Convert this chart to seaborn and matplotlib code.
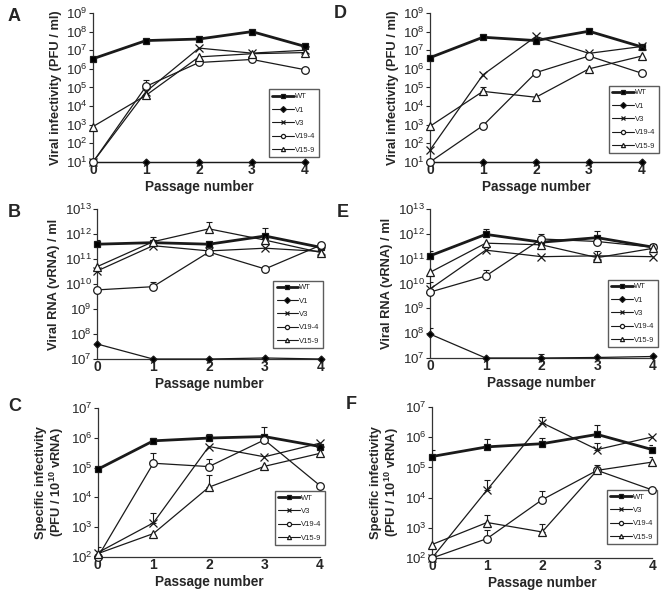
import numpy as np
import pandas as pd
import matplotlib
matplotlib.use("Agg")
import matplotlib.pyplot as plt
import matplotlib.ticker as mticker
import seaborn as sns

# --------------------------
# Data
# --------------------------
passage = [0, 1, 2, 3, 4]
series_names = ["WT", "V1", "V3", "V19-4", "V15-9"]

# A: viral infectivity (PFU/ml), left column
a_wt = [3.5e6, 3.3e7, 4.0e7, 1.0e8, 1.6e7]
a_v1 = [10, 10, 10, 10, 10]
a_v3 = [10, 6.0e4, 1.3e7, 7.0e6, 1.0e7]
a_v19 = [10, 1.15e5, 2.2e6, 3.2e6, 9.0e5]
a_v15 = [8.0e2, 3.8e4, 4.4e6, 6.5e6, 7.5e6]
a_err = {"WT": [None, None, 5.0e7, None, None],
         "V19-4": [None, 2.4e5, None, None, None]}

# D: viral infectivity (PFU/ml), right column
d_wt = [4.0e6, 5.0e7, 3.3e7, 1.05e8, 1.5e7]
d_v1 = [10, 10, 10, 10, 10]
d_v3 = [44, 4.8e5, 5.5e7, 6.8e6, 1.6e7]
d_v19 = [10, 9.0e2, 6.3e5, 4.9e6, 5.8e5]
d_v15 = [8.3e2, 6.2e4, 3.0e4, 1.0e6, 4.9e6]
d_err = {"V15-9": [None, 1.0e5, None, None, None],
         "V19-4": [None, None, 9.0e5, None, None]}

# B: viral RNA (vRNA)/ml, left column
b_wt = [3.9e11, 4.5e11, 3.9e11, 8.3e11, 2.9e11]
b_v1 = [4.0e7, 1.0e7, 1.0e7, 1.1e7, 1.0e7]
b_v3 = [3.3e10, 3.4e11, 2.1e11, 2.7e11, 2.0e11]
b_v19 = [5.8e9, 7.8e9, 1.9e11, 4.0e10, 3.6e11]
b_v15 = [4.9e10, 4.9e11, 1.6e12, 5.7e11, 1.8e11]
b_err = {"WT": [6.0e11, None, None, 1.7e12, None],
         "V19-4": [None, 1.2e10, None, None, None],
         "V15-9": [None, 7.5e11, 3.1e12, None, None]}

# E: viral RNA (vRNA)/ml, right column
e_wt = [1.3e11, 9.5e11, 4.6e11, 7.0e11, 2.9e11]
e_v1 = [9.2e7, 1.0e7, 1.0e7, 1.05e7, 1.15e7]
e_v3 = [6.0e9, 2.2e11, 1.2e11, 1.3e11, 1.2e11]
e_v19 = [4.5e9, 2.0e10, 6.2e11, 4.9e11, 2.9e11]
e_v15 = [2.8e10, 4.2e11, 3.6e11, 1.1e11, 2.6e11]
e_err = {"WT": [2.0e11, 1.6e12, None, 1.3e12, None],
         "V1": [1.6e8, None, 1.4e7, None, None],
         "V19-4": [None, 3.5e10, 9.5e11, None, None],
         "V3": [1.1e10, None, None, 2.0e11, None]}

# C: specific infectivity (PFU/10^10 vRNA), left column
c_wt = [8.8e4, 7.9e5, 9.8e5, 1.1e6, 5.1e5]
c_v3 = [140, 1.4e3, 5.1e5, 2.3e5, 6.6e5]
c_v19 = [100, 1.4e5, 1.08e5, 8.5e5, 2.5e4]
c_v15 = [130, 610, 2.2e4, 1.1e5, 3.0e5]
c_err = {"WT": [None, 9.5e5, 1.35e6, 2.3e6, None],
         "V3": [None, 2.9e3, None, None, None],
         "V19-4": [None, 3.0e5, 2.0e5, None, None],
         "V15-9": [2.2e2, None, 5.6e4, None, None]}

# F: specific infectivity (PFU/10^10 vRNA), right column
f_wt = [2.3e5, 4.8e5, 6.1e5, 1.24e6, 3.9e5]
f_v3 = [100, 1.8e4, 3.0e6, 3.9e5, 1.02e6]
f_v19 = [100, 440, 8.5e3, 8.0e4, 1.8e4]
f_v15 = [280, 1.5e3, 730, 8.0e4, 1.5e5]
f_err = {"WT": [3.9e5, 9.0e5, 9.5e5, 2.6e6, 5.5e5],
         "V3": [None, 3.9e4, 4.7e6, 6.5e5, None],
         "V19-4": [None, 8.3e2, 1.6e4, None, None],
         "V15-9": [None, 2.6e3, 1.3e3, 1.2e5, 2.3e5]}

# --------------------------
# Styling
# --------------------------
sns.set_style("ticks")
plt.rcParams["font.family"] = ["Liberation Sans", "DejaVu Sans"]
plt.rcParams["mathtext.fontset"] = "custom"
plt.rcParams["mathtext.rm"] = "Liberation Sans:bold"
plt.rcParams["mathtext.bf"] = "Liberation Sans:bold"
plt.rcParams["mathtext.it"] = "Liberation Sans:bold"
plt.rcParams["mathtext.default"] = "bf"

styles = {
    "WT": dict(marker="s", mfc="black", ms=5, lw=2.0),
    "V1": dict(marker="D", mfc="black", ms=3.5, lw=0.9),
    "V3": dict(marker="x", mfc="black", ms=6, lw=0.9),
    "V19-4": dict(marker="o", mfc="white", ms=5.5, lw=0.9),
    "V15-9": dict(marker="^", mfc="white", ms=5.5, lw=0.9),
}


def draw_panel(ax, data, errs, ylim, ylabel, leg_xy):
    for name, vals in data.items():
        st = styles[name]
        df = pd.DataFrame({"passage": passage, "value": vals})
        sns.lineplot(data=df, x="passage", y="value", ax=ax, color="#1a1a1a",
                     marker=st["marker"], markerfacecolor=st["mfc"],
                     markeredgecolor="#1a1a1a", markersize=st["ms"],
                     markeredgewidth=0.9, linewidth=st["lw"], label=name,
                     clip_on=False, zorder=6)
        if name in errs:
            up = errs[name]
            xs = [p for p, u in zip(passage, up) if u is not None]
            ys = [v for v, u in zip(vals, up) if u is not None]
            hi = [u - v for v, u in zip(vals, up) if u is not None]
            ax.errorbar(xs, ys, yerr=[np.zeros(len(hi)), hi], fmt="none",
                        ecolor="#1a1a1a", elinewidth=0.8, capsize=2.5,
                        capthick=0.8, zorder=5)
    ax.set_yscale("log")
    ax.set_ylim(*ylim)
    ax.set_xlim(0, 4)
    ax.set_xticks(passage)
    ax.yaxis.set_major_locator(mticker.LogLocator(base=10, numticks=20))
    ax.yaxis.set_minor_locator(mticker.NullLocator())
    ax.tick_params(axis="y", direction="out", length=3, width=0.8,
                   labelsize=9.5, pad=1)
    ax.tick_params(axis="x", length=0, labelsize=10, pad=1)
    for lab in ax.get_xticklabels():
        lab.set_fontweight("bold")
    sns.despine(ax=ax)
    for sp in ["left", "bottom"]:
        ax.spines[sp].set_linewidth(0.9)
        ax.spines[sp].set_color("#333333")
    ax.set_xlabel("Passage number", fontsize=9.8, fontweight="bold", labelpad=2)
    ax.set_ylabel(ylabel, fontsize=9.3, fontweight="bold", labelpad=3,
                  linespacing=1.05)
    leg = ax.legend(loc="lower left", bbox_to_anchor=leg_xy, fontsize=5.5,
                    frameon=True, fancybox=False, edgecolor="#333333",
                    handlelength=2.8, handletextpad=0.2, borderpad=0.45,
                    labelspacing=0.78, borderaxespad=0)
    leg.set_zorder(4)
    leg.get_frame().set_linewidth(1.0)
    for h in leg.legend_handles:
        h.set_markersize(3)
        if h.get_linewidth() < 1.5:
            h.set_linewidth(0.8)


fig = plt.figure(figsize=(6.61, 5.93), dpi=100)

ax_a = fig.add_axes([0.1407, 0.7268, 0.3207, 0.2513])
ax_d = fig.add_axes([0.6505, 0.7268, 0.3207, 0.2513])
ax_b = fig.add_axes([0.1467, 0.3946, 0.3390, 0.2530])
ax_e = fig.add_axes([0.6505, 0.3963, 0.3374, 0.2513])
ax_c = fig.add_axes([0.1480, 0.0607, 0.3360, 0.2513])
ax_f = fig.add_axes([0.6536, 0.0590, 0.3330, 0.2546])

inf_label = "Viral infectivity (PFU / ml)"
rna_label = "Viral RNA (vRNA) / ml"
spec_label = "Specific infectivity\n(PFU / 10$^{10}$ vRNA)"

draw_panel(ax_a, {"WT": a_wt, "V1": a_v1, "V3": a_v3, "V19-4": a_v19, "V15-9": a_v15},
           a_err, (10, 1e9), inf_label, (0.83, 0.034))
draw_panel(ax_d, {"WT": d_wt, "V1": d_v1, "V3": d_v3, "V19-4": d_v19, "V15-9": d_v15},
           d_err, (10, 1e9), inf_label, (0.844, 0.06))
draw_panel(ax_b, {"WT": b_wt, "V1": b_v1, "V3": b_v3, "V19-4": b_v19, "V15-9": b_v15},
           b_err, (1e7, 1e13), rna_label, (0.786, 0.073))
draw_panel(ax_e, {"WT": e_wt, "V1": e_v1, "V3": e_v3, "V19-4": e_v19, "V15-9": e_v15},
           e_err, (1e7, 1e13), rna_label, (0.798, 0.074))
draw_panel(ax_c, {"WT": c_wt, "V3": c_v3, "V19-4": c_v19, "V15-9": c_v15},
           c_err, (1e2, 1e7), spec_label, (0.797, 0.08))
draw_panel(ax_f, {"WT": f_wt, "V3": f_v3, "V19-4": f_v19, "V15-9": f_v15},
           f_err, (1e2, 1e7), spec_label, (0.795, 0.093))

# panel letters
for letter, px, py in [("A", 8, 8), ("B", 8, 204), ("C", 8, 398),
                       ("D", 334, 5), ("E", 337, 204), ("F", 346, 396)]:
    fig.text(px / 661, 1 - py / 593, letter, fontsize=13, fontweight="bold",
             ha="left", va="top")

fig.savefig("out.png", dpi=100)
